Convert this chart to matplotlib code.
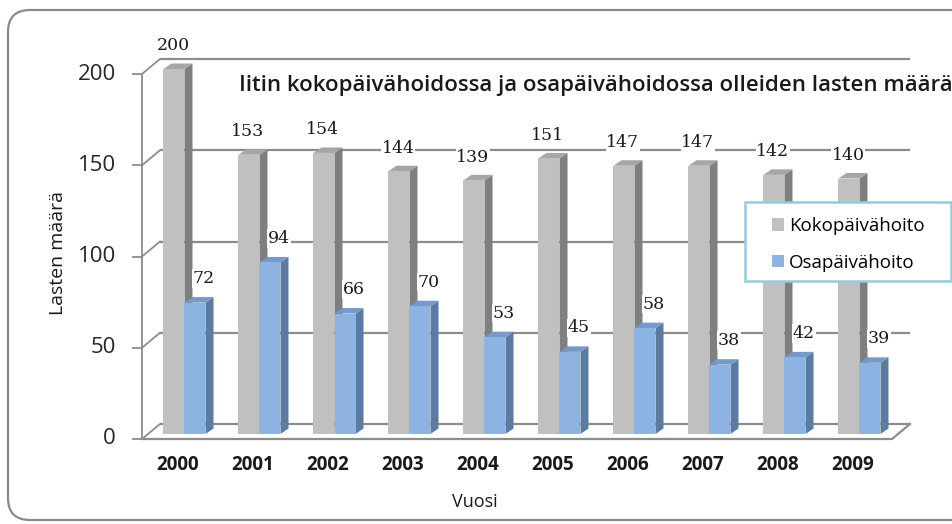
import matplotlib
matplotlib.use("Agg")
import matplotlib.pyplot as plt
from matplotlib.patches import Polygon, FancyBboxPatch, Patch, Rectangle

years = ["2000", "2001", "2002", "2003", "2004", "2005", "2006", "2007", "2008", "2009"]
koko = [200, 153, 154, 144, 139, 151, 147, 147, 142, 140]
osa = [72, 94, 66, 70, 53, 45, 58, 38, 42, 39]
series_names = ["Kokopäivähoito", "Osapäivähoito"]
yticks = [0, 50, 100, 150, 200]
title = "Iitin kokopäivähoidossa ja osapäivähoidossa olleiden lasten määrä"
ylabel = "Lasten määrä"
xlabel = "Vuosi"

W, H = 952, 524
fig = plt.figure(figsize=(W / 100, H / 100), dpi=100, facecolor="white")
ax = fig.add_axes([0, 0, 1, 1])
ax.set_axis_off()

# scale: px per category and per unit
S = 75.0
K = 1.825
X0 = 142.0   # front axis pixel x
Y0 = 439.0   # front floor pixel y


def dx(px):
    return (px - X0) / S - 0.5


def dy(py):
    return (Y0 - py) / K


ax.set_xlim(dx(0), dx(W))
ax.set_ylim(dy(H), dy(0))

SANS = ["Open Sans", "DejaVu Sans"]
SERIF = ["DejaVu Serif"]
line_c = "#8c8c8c"
txt_c = "#1a1a1a"

# outer rounded border (pixel coordinates, y up)
border = FancyBboxPatch((8, H - 520), 1000, 510,
                        boxstyle="round,pad=0,rounding_size=22",
                        transform=None, fc="none", ec="#8a8a8a", lw=1.6, zorder=0)
fig.patches.append(border)

# walls / grid
wdx = 18 / S
wdy = 15 / K
xl = -0.5
xr = len(years) - 0.5
for v in yticks:
    ax.plot([xl + wdx, xr + wdx], [v + wdy, v + wdy], color=line_c, lw=1.6, zorder=1,
            solid_capstyle="butt")
    ax.plot([xl, xl + wdx], [v, v + wdy], color=line_c, lw=1.3, zorder=1)
    ax.plot([xl - 9 / S, xl], [v, v], color=line_c, lw=1.3, zorder=1)
    ax.text(dx(116), v, str(v), ha="right", va="center", fontsize=16,
            family=SANS, color="#262626")
ax.plot([xl, xl], [0, yticks[-1]], color=line_c, lw=1.3, zorder=1)
ax.plot([xl, xr, xr + wdx], [0, 0, wdy], color=line_c, lw=1.6, zorder=1)

# bars (pseudo 3D)
b0 = 5 / K
ddx = 8 / S
ddy = 5.5 / K
bw = 21 / S
styles = [
    dict(front="#c0c0c0", side="#7f7f7f", top="#a6a6a6", off=-16 / S),
    dict(front="#8db3e2", side="#5b7ba3", top="#7799c6", off=5 / S),
]


def draw_3d(ax, xs, vals, st, z):
    lefts = [x + st["off"] for x in xs]
    ax.bar(lefts, vals, width=bw, bottom=b0, align="edge", color=st["front"],
           lw=0, zorder=z + 0.2)
    for x0, v in zip(lefts, vals):
        x1 = x0 + bw
        top = b0 + v
        side = Polygon([(x1, b0), (x1 + ddx, b0 + ddy), (x1 + ddx, top + ddy), (x1, top)],
                       closed=True, fc=st["side"], ec="none", zorder=z)
        tp = Polygon([(x0, top), (x0 + ddx, top + ddy), (x1 + ddx, top + ddy), (x1, top)],
                     closed=True, fc=st["top"], ec="none", zorder=z)
        ax.add_patch(side)
        ax.add_patch(tp)


xs = list(range(len(years)))
for i in xs:
    draw_3d(ax, [i], [koko[i]], styles[0], 2 + i * 0.01)
    draw_3d(ax, [i], [osa[i]], styles[1], 3 + i * 0.01)

# data labels
for i in xs:
    gx = i + styles[0]["off"] + bw / 2
    ax.text(gx - 1 / S, b0 + koko[i] + 23 / K, str(koko[i]), ha="center", va="center",
            fontsize=12.5, family=SERIF, color=txt_c, zorder=6,
            bbox=dict(fc="white", ec="none", pad=0.5))
    bx = i + styles[1]["off"] + bw / 2
    ax.text(bx + 9 / S, b0 + osa[i] + 24 / K, str(osa[i]), ha="center", va="center",
            fontsize=12.5, family=SERIF, color=txt_c, zorder=6,
            bbox=dict(fc="white", ec="none", pad=0.5))

# category labels
for i, yr in enumerate(years):
    ax.text(i - 1.5 / S, dy(465), yr, ha="center", va="center", fontsize=13.5,
            fontweight="bold", family=SANS, color=txt_c)

ax.text(dx(475), dy(502), xlabel, ha="center", va="center", fontsize=13,
        family=SANS, color=txt_c)
ax.text(dx(58), dy(253), ylabel, ha="center", va="center", rotation=90, fontsize=14,
        family=SANS, color=txt_c)

ax.text(dx(239), dy(85), title, ha="left", va="center", fontsize=16, fontweight="semibold",
        family=SANS, color=txt_c, zorder=7)

# legend box + entries
ax.add_patch(Rectangle((dx(745), dy(281)), dx(951) - dx(745), dy(202) - dy(281),
                       fc="white", ec="#92cddc", lw=1.8, zorder=8))
handles = [Patch(fc=styles[0]["front"], ec="none"), Patch(fc=styles[1]["front"], ec="none")]
leg = ax.legend(handles, series_names, loc="upper left",
                bbox_to_anchor=(772 / W, 1 - 217 / H), bbox_transform=fig.transFigure,
                frameon=False, prop=dict(family=SANS, size=13.5),
                handlelength=0.65, handleheight=0.65, handletextpad=0.25,
                labelspacing=1.0, borderpad=0.0, borderaxespad=0)
leg.set_zorder(9)

fig.savefig("out.png", dpi=100, facecolor="white")
